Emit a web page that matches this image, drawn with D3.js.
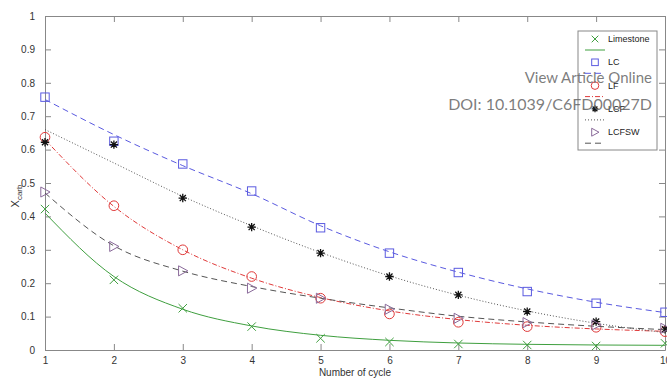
<!DOCTYPE html>
<html>
<head>
<meta charset="utf-8">
<script src="https://cdn.jsdelivr.net/npm/d3@7"></script>
<style>
  body { margin: 0; background: #fff; }
  svg { display: block; }
  .axis text { font-family: "Liberation Sans", Arial, sans-serif; font-size: 10px; fill: #333; }
  .axis path, .axis line { stroke: #888; }
</style>
</head>
<body>
<script>
// cycles and measured conversion values
var cycles = [1, 2, 3, 4, 5, 6, 7, 8, 9, 10];
var limestone = [0.422, 0.21, 0.125, 0.07, 0.035, 0.024, 0.018, 0.015, 0.012, 0.02];
var lc        = [0.757, 0.625, 0.557, 0.476, 0.366, 0.29, 0.232, 0.175, 0.14, 0.113];
var lf        = [0.637, 0.432, 0.30, 0.22, 0.155, 0.108, 0.083, 0.07, 0.068, 0.055];
var lcf       = [0.622, 0.615, 0.455, 0.368, 0.29, 0.22, 0.165, 0.115, 0.085, 0.062];
var lcfsw     = [0.473, 0.31, 0.237, 0.185, 0.155, 0.122, 0.095, 0.082, 0.075, 0.065];

// fitted curves, read at each cycle
var limestoneFit = [0.41, 0.22, 0.122, 0.072, 0.044, 0.029, 0.021, 0.017, 0.015, 0.014];
var lcFit        = [0.75, 0.645, 0.552, 0.468, 0.372, 0.294, 0.233, 0.183, 0.143, 0.112];
var lfFit        = [0.63, 0.43, 0.30, 0.215, 0.157, 0.117, 0.091, 0.074, 0.063, 0.056];
var lcfFit       = [0.66, 0.56, 0.46, 0.372, 0.292, 0.222, 0.164, 0.117, 0.08, 0.052];
var lcfswFit     = [0.47, 0.312, 0.236, 0.19, 0.155, 0.126, 0.101, 0.084, 0.071, 0.061];

var seriesNames = ["Limestone", "LC", "LF", "LCF", "LCFSW"];
var yTicks = [0, 0.1, 0.2, 0.3, 0.4, 0.5, 0.6, 0.7, 0.8, 0.9, 1];

var series = [
  {name: "Limestone", pts: limestone, fit: limestoneFit, color: "#3f9f3f", marker: "x", line: "#3f9f3f", dash: null},
  {name: "LC", pts: lc, fit: lcFit, color: "#5a5ae0", marker: "square", line: "#5a5ae0", dash: "6,4"},
  {name: "LF", pts: lf, fit: lfFit, color: "#e03a3a", marker: "circle", line: "#e03a3a", dash: "5,2,1,2"},
  {name: "LCF", pts: lcf, fit: lcfFit, color: "#111", marker: "star", line: "#555", dash: "1,2"},
  {name: "LCFSW", pts: lcfsw, fit: lcfswFit, color: "#8a6a9a", marker: "tri", line: "#555", dash: "6,4"}
];

var W = 667, H = 378;
var margin = {top: 16, right: 2, bottom: 28, left: 45};
var w = W - margin.left - margin.right;
var h = H - margin.top - margin.bottom;

var svg = d3.select("body").append("svg").attr("width", W).attr("height", H);
var g = svg.append("g").attr("transform", "translate(" + margin.left + "," + margin.top + ")");

var x = d3.scaleLinear().domain([1, 10]).range([0, 620]);
var y = d3.scaleLinear().domain([0, 1]).range([h, 0]);

// box frame with inward ticks
g.append("g").attr("class", "axis")
  .attr("transform", "translate(0," + h + ")")
  .call(d3.axisBottom(x).tickValues(cycles).tickFormat(d3.format("d")).tickSizeInner(-6).tickSizeOuter(0).tickPadding(7));
g.append("g").attr("class", "axis")
  .call(d3.axisTop(x).tickValues(cycles).tickFormat("").tickSizeInner(-6).tickSizeOuter(0));
g.append("g").attr("class", "axis")
  .call(d3.axisLeft(y).tickValues(yTicks).tickFormat(function(d) { return d3.format("")(+d.toFixed(1)); }).tickSizeInner(-6).tickSizeOuter(0).tickPadding(10));
g.append("g").attr("class", "axis")
  .attr("transform", "translate(" + x(10) + ",0)")
  .call(d3.axisRight(y).tickValues(yTicks).tickFormat("").tickSizeInner(-6).tickSizeOuter(0));

// axis labels
svg.append("text")
  .attr("x", margin.left + x(5.5)).attr("y", 376)
  .attr("text-anchor", "middle")
  .style("font-family", "Liberation Sans, Arial, sans-serif").style("font-size", "10px").style("fill", "#333")
  .text("Number of cycle");
var yl = svg.append("text")
  .attr("transform", "translate(19,196) rotate(-90)")
  .attr("text-anchor", "middle")
  .style("font-family", "Liberation Sans, Arial, sans-serif").style("font-size", "11px").style("fill", "#333");
yl.append("tspan").text("X");
yl.append("tspan").attr("dy", 3).style("font-size", "8px").text("carb");

function drawMarker(sel, type, color, cx, cy, s) {
  var k = s * 0.73;
  if (type === "x") {
    sel.append("path").attr("d", "M" + (cx - s) + "," + (cy - s) + "L" + (cx + s) + "," + (cy + s) + "M" + (cx - s) + "," + (cy + s) + "L" + (cx + s) + "," + (cy - s))
      .attr("stroke", color).attr("fill", "none");
  } else if (type === "square") {
    sel.append("rect").attr("x", cx - s).attr("y", cy - s).attr("width", 2 * s).attr("height", 2 * s)
      .attr("stroke", color).attr("fill", "none");
  } else if (type === "circle") {
    sel.append("circle").attr("cx", cx).attr("cy", cy).attr("r", s * 1.15)
      .attr("stroke", color).attr("fill", "none");
  } else if (type === "star") {
    var d = "M" + (cx - s) + "," + cy + "L" + (cx + s) + "," + cy +
      "M" + cx + "," + (cy - s) + "L" + cx + "," + (cy + s) +
      "M" + (cx - k) + "," + (cy - k) + "L" + (cx + k) + "," + (cy + k) +
      "M" + (cx - k) + "," + (cy + k) + "L" + (cx + k) + "," + (cy - k);
    sel.append("path").attr("d", d).attr("stroke", color).attr("stroke-width", 1.3).attr("fill", "none");
  } else if (type === "tri") {
    sel.append("path").attr("d", "M" + (cx - s) + "," + (cy - s * 1.2) + "L" + (cx + s * 1.2) + "," + cy + "L" + (cx - s) + "," + (cy + s * 1.2) + "Z")
      .attr("stroke", color).attr("fill", "none");
  }
}

var line = d3.line()
  .x(function(d, i) { return x(cycles[i]); })
  .y(function(d) { return y(d); })
  .curve(d3.curveMonotoneX);

series.forEach(function(s) {
  g.append("path").datum(s.fit)
    .attr("d", line)
    .attr("fill", "none")
    .attr("stroke", s.line)
    .attr("stroke-width", 1)
    .attr("stroke-dasharray", s.dash);
  var mg = g.append("g");
  s.pts.forEach(function(v, i) { drawMarker(mg, s.marker, s.color, x(cycles[i]), y(v), 4.2); });
});

// legend
var lg = svg.append("g").attr("transform", "translate(578,31)");
lg.append("rect").attr("width", 79).attr("height", 119).attr("fill", "#fff").attr("stroke", "#888");
series.forEach(function(s, i) {
  var yy = 8 + i * 23.3;
  drawMarker(lg, s.marker, s.color, 17, yy, 3.3);
  lg.append("line").attr("x1", 7).attr("x2", 27).attr("y1", yy + 11).attr("y2", yy + 11)
    .attr("stroke", s.line).attr("stroke-dasharray", s.dash);
  lg.append("text").attr("x", 30).attr("y", yy + 3)
    .style("font-family", "Liberation Sans, Arial, sans-serif").style("font-size", "9px").style("fill", "#222")
    .text(seriesNames[i]);
});

// watermark
svg.append("text").attr("x", 652).attr("y", 83).attr("text-anchor", "end")
  .style("font-family", "Lato, sans-serif").style("font-size", "15px").style("fill", "#666").style("fill-opacity", 0.85)
  .text("View Article Online");
svg.append("text").attr("x", 652).attr("y", 110).attr("text-anchor", "end")
  .style("font-family", "Lato, sans-serif").style("font-size", "16px").style("fill", "#666").style("fill-opacity", 0.85)
  .text("DOI: 10.1039/C6FD00027D");
</script>
</body>
</html>
